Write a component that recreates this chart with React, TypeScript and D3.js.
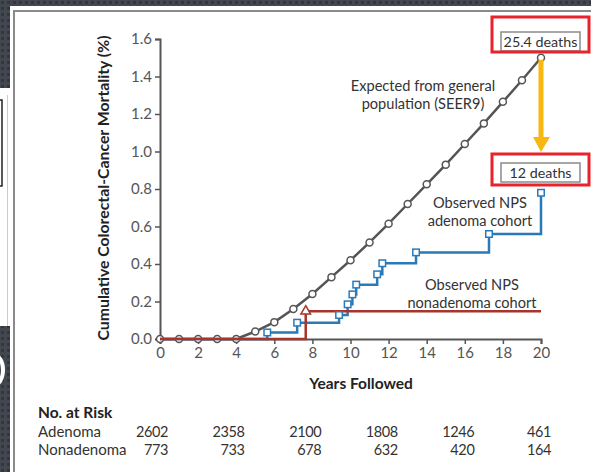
import * as d3 from "d3";
import { useEffect, useRef } from "react";

const W = 591;
const H = 472;

// expected from general population (SEER9), one point per year
const expectedYears = [0, 1, 2, 3, 4, 5, 6, 7, 8, 9, 10, 11, 12, 13, 14, 15, 16, 17, 18, 19, 20];
const expectedVals = [0, 0, 0, 0, 0, 0.04, 0.09, 0.16, 0.24, 0.33, 0.42, 0.515, 0.615, 0.72, 0.825, 0.93, 1.04, 1.15, 1.265, 1.38, 1.5];

// observed adenoma cohort (step function)
const adenomaYears = [0, 5.63, 7.2, 9.4, 9.85, 10.1, 10.3, 11.4, 11.67, 13.44, 17.27, 20];
const adenomaVals = [0, 0.035, 0.087, 0.128, 0.185, 0.238, 0.29, 0.345, 0.404, 0.462, 0.56, 0.78];

// observed nonadenoma cohort
const nonadenomaYears = [0, 7.65, 20];
const nonadenomaVals = [0, 0.148, 0.148];

const xTicks = [0, 2, 4, 6, 8, 10, 12, 14, 16, 18, 20];
const yTicks = [0, 0.2, 0.4, 0.6, 0.8, 1.0, 1.2, 1.4, 1.6];

const riskYears = [0, 4, 8, 12, 16, 20];
const riskAdenoma = [2602, 2358, 2100, 1808, 1246, 461];
const riskNonadenoma = [773, 733, 678, 632, 420, 164];

const FONT = "Lato, 'Open Sans', sans-serif";
const GRAY = "#555";
const BLUE = "#2a7ab8";
const RED = "#a8352b";
const ORANGE = "#f8b711";

export default function App() {
  const ref = useRef<SVGSVGElement>(null);

  useEffect(() => {
    if (!ref.current) return;
    const svg = d3.select(ref.current);
    svg.selectAll("*").remove();

    // slide background
    const defs = svg.append("defs");
    const pat = defs
      .append("pattern")
      .attr("id", "tex")
      .attr("width", 6)
      .attr("height", 6)
      .attr("patternUnits", "userSpaceOnUse");
    pat.append("rect").attr("width", 6).attr("height", 6).attr("fill", "#434850");
    pat.append("rect").attr("x", 1).attr("y", 1).attr("width", 3).attr("height", 3).attr("fill", "#33373d");

    svg.append("rect").attr("width", W).attr("height", H).attr("fill", "url(#tex)");
    svg.append("rect").attr("x", 0).attr("y", 88).attr("width", 10).attr("height", 238).attr("fill", "#fff");
    svg.append("rect").attr("x", -20).attr("y", 100).attr("width", 22).attr("height", 86)
      .attr("fill", "none").attr("stroke", "#222").attr("stroke-width", 1.5);
    svg.append("line").attr("x1", 7.5).attr("x2", 7.5).attr("y1", 95).attr("y2", 326)
      .attr("stroke", "#ccc").attr("stroke-width", 1);
    svg.append("ellipse").attr("cx", -6).attr("cy", 370).attr("rx", 9).attr("ry", 15)
      .attr("fill", "none").attr("stroke", "#fff").attr("stroke-width", 4);

    svg.append("rect").attr("x", 10).attr("y", 6).attr("width", W).attr("height", H).attr("fill", "#fff");
    svg.append("line").attr("x1", 14).attr("x2", 14).attr("y1", 10).attr("y2", H)
      .attr("stroke", "#8a8a8a").attr("stroke-width", 2);
    svg.append("line").attr("x1", 13).attr("x2", W).attr("y1", 11).attr("y2", 11)
      .attr("stroke", "#8a8a8a").attr("stroke-width", 2);

    const x = d3.scaleLinear().domain([0, 20]).range([160, 541]);
    const y = d3.scaleLinear().domain([0, 1.6]).range([339, 39]);

    const g = svg.append("g").style("font-family", FONT);

    // axes
    const yAxis = g.append("g").attr("transform", `translate(${x(0)},0)`)
      .call(d3.axisLeft(y).tickValues(yTicks).tickFormat(d3.format(".1f")).tickSize(5).tickPadding(3));
    const xAxis = g.append("g").attr("transform", `translate(0,${y(0)})`)
      .call(d3.axisBottom(x).tickValues(xTicks).tickSize(5).tickPadding(3));
    [yAxis, xAxis].forEach((a) => {
      a.select(".domain").attr("stroke", GRAY).attr("stroke-width", 2);
      a.selectAll(".tick line").attr("stroke", GRAY).attr("stroke-width", 1.5);
      a.selectAll(".tick text").attr("fill", "#555").style("font-size", "15px").style("font-family", FONT);
    });

    g.append("text")
      .attr("transform", `translate(109,188) rotate(-90)`)
      .attr("text-anchor", "middle")
      .attr("font-weight", "bold")
      .attr("font-size", 15.8)
      .attr("fill", "#222")
      .text("Cumulative Colorectal-Cancer Mortality (%)");

    g.append("text")
      .attr("x", 361)
      .attr("y", 389)
      .attr("text-anchor", "middle")
      .attr("font-weight", "bold")
      .attr("font-size", 15.5)
      .attr("fill", "#222")
      .text("Years Followed");

    // expected line
    const expected = expectedYears.map((t, i) => [t, expectedVals[i]] as [number, number]);
    g.append("path")
      .datum(expected)
      .attr("fill", "none")
      .attr("stroke", GRAY)
      .attr("stroke-width", 2.5)
      .attr("d", d3.line<[number, number]>().x((d) => x(d[0])).y((d) => y(d[1])));
    g.selectAll("circle.exp")
      .data(expected)
      .join("circle")
      .attr("class", "exp")
      .attr("cx", (d) => x(d[0]))
      .attr("cy", (d) => y(d[1]))
      .attr("r", 3.5)
      .attr("fill", "#fff")
      .attr("stroke", GRAY)
      .attr("stroke-width", 1.5);

    // adenoma
    const aden = adenomaYears.map((t, i) => [t, adenomaVals[i]] as [number, number]);
    g.append("path")
      .datum(aden)
      .attr("fill", "none")
      .attr("stroke", BLUE)
      .attr("stroke-width", 2.5)
      .attr("d", d3.line<[number, number]>().x((d) => x(d[0])).y((d) => y(d[1])).curve(d3.curveStepAfter));

    // nonadenoma
    const non = nonadenomaYears.map((t, i) => [t, nonadenomaVals[i]] as [number, number]);
    g.append("path")
      .datum(non)
      .attr("fill", "none")
      .attr("stroke", RED)
      .attr("stroke-width", 2.5)
      .attr("d", d3.line<[number, number]>().x((d) => x(d[0])).y((d) => y(d[1])).curve(d3.curveStepAfter));

    g.selectAll("rect.aden")
      .data(aden.slice(1))
      .join("rect")
      .attr("class", "aden")
      .attr("x", (d) => x(d[0]) - 3.25)
      .attr("y", (d) => y(d[1]) - 3.25)
      .attr("width", 6.5)
      .attr("height", 6.5)
      .attr("fill", "#fff")
      .attr("stroke", BLUE)
      .attr("stroke-width", 1.5);

    g.selectAll("path.non")
      .data(non.slice(1, 2))
      .join("path")
      .attr("class", "non")
      .attr("transform", (d) => `translate(${x(d[0])},${y(d[1])})`)
      .attr("d", d3.symbol(d3.symbolTriangle, 40)())
      .attr("fill", "#fff")
      .attr("stroke", RED)
      .attr("stroke-width", 1.5);

    // annotations
    const label = (cx: number, cy: number, lines: string[]) => {
      const t = g.append("text").attr("text-anchor", "middle").attr("font-size", 14.6).attr("fill", "#333");
      lines.forEach((l, i) => t.append("tspan").attr("x", cx).attr("y", cy + i * 17.5).text(l));
    };
    label(423, 91, ["Expected from general", "population (SEER9)"]);
    label(480, 208, ["Observed NPS", "adenoma cohort"]);
    label(472, 290, ["Observed NPS", "nonadenoma cohort"]);

    // death callouts
    const end = expected[expected.length - 1];
    const ax = x(end[0]);
    g.append("line").attr("x1", ax).attr("x2", ax).attr("y1", y(end[1]) + 2).attr("y2", 139)
      .attr("stroke", ORANGE).attr("stroke-width", 5);
    g.append("path")
      .attr("d", `M${ax - 8},137 L${ax + 9},137 L${ax},152 Z`)
      .attr("fill", ORANGE);

    const callout = (top: number, text: string) => {
      g.append("rect").attr("x", 501).attr("y", top).attr("width", 79).attr("height", 19)
        .attr("fill", "#fff").attr("stroke", "#8a8a8a").attr("stroke-width", 1.5);
      g.append("text").attr("x", 540.5).attr("y", top + 14.8).attr("text-anchor", "middle")
        .attr("font-size", 14.3).attr("fill", "#333").text(text);
    };
    callout(32, "25.4 deaths");
    callout(163, "12 deaths");
    g.append("rect").attr("x", 492).attr("y", 17).attr("width", 97).attr("height", 35)
      .attr("fill", "none").attr("stroke", "#e8232b").attr("stroke-width", 3);
    g.append("rect").attr("x", 492).attr("y", 154).attr("width", 97).attr("height", 31)
      .attr("fill", "none").attr("stroke", "#e8232b").attr("stroke-width", 3);

    // number at risk table
    const col = d3.scalePoint<number>().domain(riskYears).range([168, 551]);
    g.append("text").attr("x", 38).attr("y", 417.5).attr("font-weight", "bold").attr("font-size", 15.5)
      .attr("fill", "#222").text("No. at Risk");
    const rows: [string, number[], number][] = [
      ["Adenoma", riskAdenoma, 437],
      ["Nonadenoma", riskNonadenoma, 454.5],
    ];
    rows.forEach(([name, vals, yy]) => {
      g.append("text").attr("x", 38).attr("y", yy).attr("font-size", 15).attr("fill", "#333").text(name);
      g.selectAll(null)
        .data(vals)
        .join("text")
        .attr("x", (_, i) => col(riskYears[i]) ?? 0)
        .attr("y", yy)
        .attr("text-anchor", "end")
        .attr("font-size", 14.5)
        .attr("letter-spacing", -0.4)
        .attr("fill", "#333")
        .text((d) => d);
    });
  }, []);

  return (
    <svg
      ref={ref}
      width={W}
      height={H}
      style={{ position: "absolute", left: 0, top: 0, display: "block" }}
    />
  );
}
